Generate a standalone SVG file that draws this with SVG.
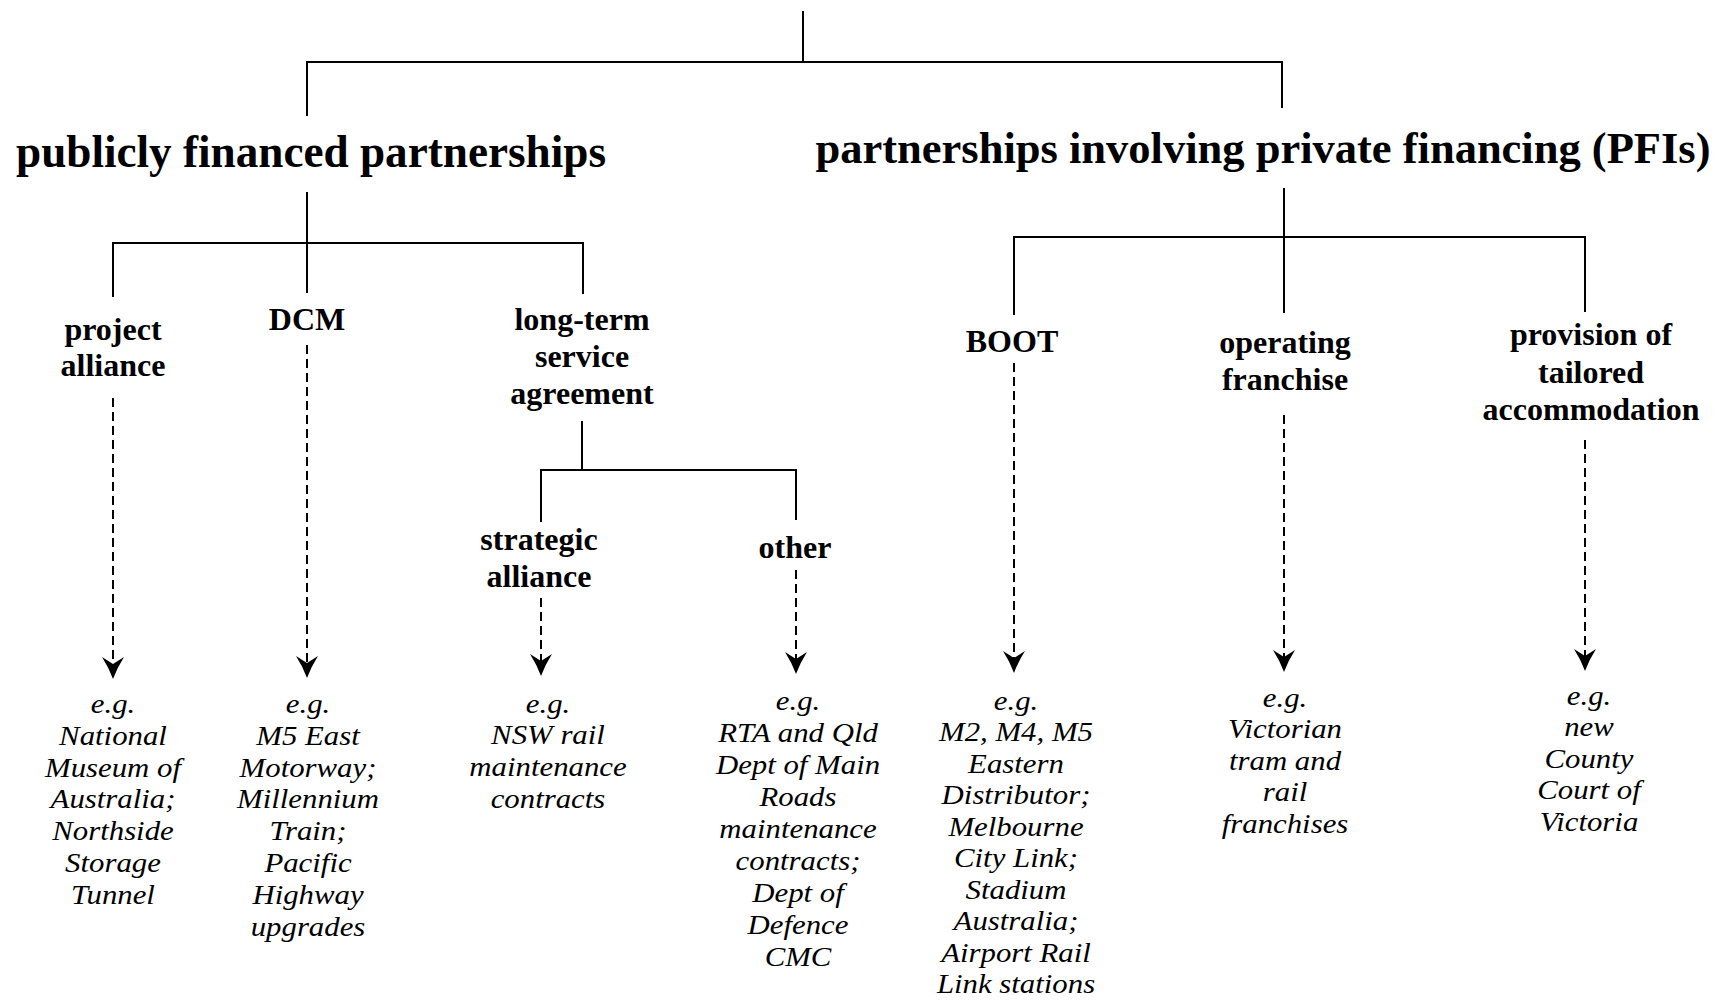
<svg xmlns="http://www.w3.org/2000/svg" width="1729" height="1001" viewBox="0 0 1729 1001">
<style>
  text { font-family: "Liberation Serif", "Times New Roman", serif; fill: #000; text-anchor: middle; }
  .title { font-size: 46px; font-weight: bold; }
  .title2 { font-size: 44px; font-weight: bold; }
  .lbl { font-size: 32px; font-weight: bold; }
  .ex { font-size: 28px; font-style: italic; }
  .solid { fill: none; stroke: #000; stroke-width: 2; }
  .dash { fill: none; stroke: #000; stroke-width: 2; stroke-dasharray: 9 5; }
</style>
<defs>
  <marker id="arr" markerUnits="userSpaceOnUse" viewBox="-10 -12 26 24" refX="0" refY="0" markerWidth="26" markerHeight="24" orient="auto" overflow="visible">
    <path d="M15,0 Q4,-4 -7,-11 L0,0 L-7,11 Q4,4 15,0 Z" fill="#000"/>
  </marker>
</defs>
<rect width="1729" height="1001" fill="#fff"/>

<g id="connectors">
  <path class="solid" d="M803,11 V62"/>
  <path class="solid" d="M307,116 V62 H1282 V108"/>
  <path class="solid" d="M307,192 V293"/>
  <path class="solid" d="M113,297 V243 H583 V294"/>
  <path class="solid" d="M582,421 V470"/>
  <path class="solid" d="M541,522 V470 H796 V520"/>
  <path class="solid" d="M1284,188 V313"/>
  <path class="solid" d="M1014,315 V237 H1585 V312"/>
  <path class="dash" d="M113,398 V664" marker-end="url(#arr)"/>
  <path class="dash" d="M307,345 V663" marker-end="url(#arr)"/>
  <path class="dash" d="M541,598 V661" marker-end="url(#arr)"/>
  <path class="dash" d="M796,570 V659" marker-end="url(#arr)"/>
  <path class="dash" d="M1014,363 V658" marker-end="url(#arr)"/>
  <path class="dash" d="M1284,415 V657" marker-end="url(#arr)"/>
  <path class="dash" d="M1585,440 V656" marker-end="url(#arr)"/>
</g>

<g id="publicly-financed">
  <text class="title" x="311" y="167" textLength="590" lengthAdjust="spacingAndGlyphs">publicly financed partnerships</text>
</g>
<g id="pfi">
  <text class="title2" x="1263" y="163" textLength="895" lengthAdjust="spacingAndGlyphs">partnerships involving private financing (PFIs)</text>
</g>

<g id="project-alliance">
  <text class="lbl" x="113" y="340">project</text>
  <text class="lbl" x="113" y="376">alliance</text>
</g>
<g id="dcm">
  <text class="lbl" x="307" y="330">DCM</text>
</g>
<g id="long-term">
  <text class="lbl" x="582" y="330">long-term</text>
  <text class="lbl" x="582" y="367">service</text>
  <text class="lbl" x="582" y="404">agreement</text>
</g>
<g id="strategic-alliance">
  <text class="lbl" x="539" y="550">strategic</text>
  <text class="lbl" x="539" y="587">alliance</text>
</g>
<g id="other">
  <text class="lbl" x="795" y="558">other</text>
</g>
<g id="boot">
  <text class="lbl" x="1012" y="352">BOOT</text>
</g>
<g id="operating-franchise">
  <text class="lbl" x="1285" y="353">operating</text>
  <text class="lbl" x="1285" y="390">franchise</text>
</g>
<g id="provision">
  <text class="lbl" x="1591" y="345">provision of</text>
  <text class="lbl" x="1591" y="383">tailored</text>
  <text class="lbl" x="1591" y="420">accommodation</text>
</g>

<g id="ex-project-alliance" transform="translate(113 0) scale(1.1 1)">
  <text class="ex" x="0" y="713">e.g.</text>
  <text class="ex" x="0" y="745">National</text>
  <text class="ex" x="0" y="777">Museum of</text>
  <text class="ex" x="0" y="808.5">Australia;</text>
  <text class="ex" x="0" y="840.5">Northside</text>
  <text class="ex" x="0" y="872.5">Storage</text>
  <text class="ex" x="0" y="904.5">Tunnel</text>
</g>
<g id="ex-dcm" transform="translate(308 0) scale(1.1 1)">
  <text class="ex" x="0" y="713">e.g.</text>
  <text class="ex" x="0" y="745">M5 East</text>
  <text class="ex" x="0" y="777">Motorway;</text>
  <text class="ex" x="0" y="808.5">Millennium</text>
  <text class="ex" x="0" y="840.5">Train;</text>
  <text class="ex" x="0" y="872.5">Pacific</text>
  <text class="ex" x="0" y="904.5">Highway</text>
  <text class="ex" x="0" y="936.5">upgrades</text>
</g>
<g id="ex-strategic" transform="translate(548 0) scale(1.1 1)">
  <text class="ex" x="0" y="713">e.g.</text>
  <text class="ex" x="0" y="744.5">NSW rail</text>
  <text class="ex" x="0" y="776.5">maintenance</text>
  <text class="ex" x="0" y="808">contracts</text>
</g>
<g id="ex-other" transform="translate(798 0) scale(1.1 1)">
  <text class="ex" x="0" y="710">e.g.</text>
  <text class="ex" x="0" y="742">RTA and Qld</text>
  <text class="ex" x="0" y="774">Dept of Main</text>
  <text class="ex" x="0" y="806">Roads</text>
  <text class="ex" x="0" y="838">maintenance</text>
  <text class="ex" x="0" y="870">contracts;</text>
  <text class="ex" x="0" y="902">Dept of</text>
  <text class="ex" x="0" y="934">Defence</text>
  <text class="ex" x="0" y="966">CMC</text>
</g>
<g id="ex-boot" transform="translate(1016 0) scale(1.1 1)">
  <text class="ex" x="0" y="710">e.g.</text>
  <text class="ex" x="0" y="741.5">M2, M4, M5</text>
  <text class="ex" x="0" y="773">Eastern</text>
  <text class="ex" x="0" y="804.5">Distributor;</text>
  <text class="ex" x="0" y="836">Melbourne</text>
  <text class="ex" x="0" y="867.5">City Link;</text>
  <text class="ex" x="0" y="899">Stadium</text>
  <text class="ex" x="0" y="930.5">Australia;</text>
  <text class="ex" x="0" y="962">Airport Rail</text>
  <text class="ex" x="0" y="993.5">Link stations</text>
</g>
<g id="ex-operating" transform="translate(1285 0) scale(1.1 1)">
  <text class="ex" x="0" y="707">e.g.</text>
  <text class="ex" x="0" y="738.5">Victorian</text>
  <text class="ex" x="0" y="770">tram and</text>
  <text class="ex" x="0" y="801.5">rail</text>
  <text class="ex" x="0" y="833">franchises</text>
</g>
<g id="ex-provision" transform="translate(1589 0) scale(1.1 1)">
  <text class="ex" x="0" y="705">e.g.</text>
  <text class="ex" x="0" y="736.5">new</text>
  <text class="ex" x="0" y="768">County</text>
  <text class="ex" x="0" y="799.5">Court of</text>
  <text class="ex" x="0" y="831">Victoria</text>
</g>
</svg>
